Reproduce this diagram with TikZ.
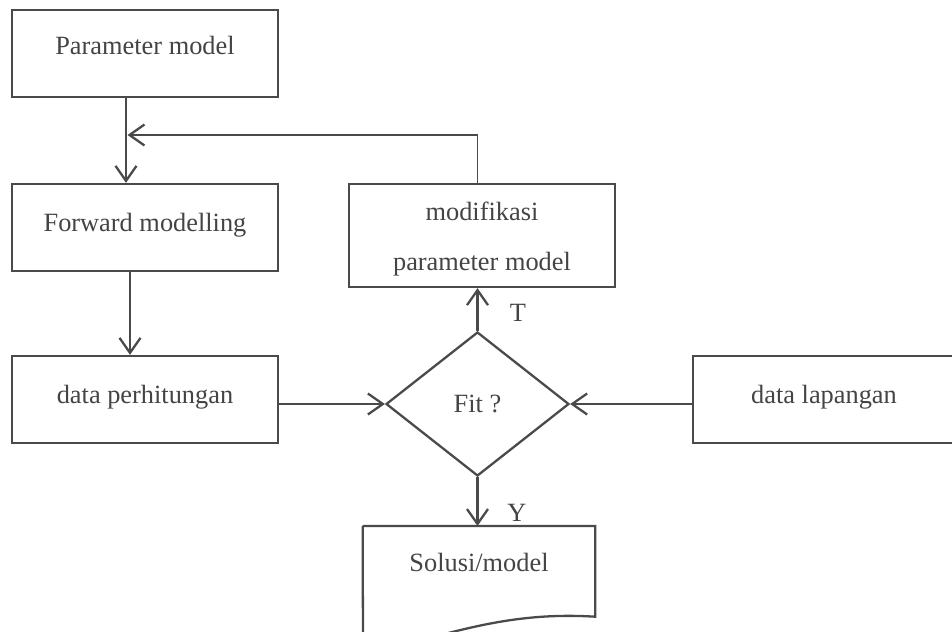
\documentclass[tikz,border=0pt]{standalone}
\usepackage{fontspec}
\setmainfont{Liberation Serif}
\usetikzlibrary{arrows.meta,shapes.geometric,calc}
\definecolor{linegray}{HTML}{4A4A4A}
\definecolor{textgray}{HTML}{444444}
\begin{document}
\begin{tikzpicture}[
    flowlabel/.style={font=\fontsize{15}{17}\selectfont, text=textgray},
    boxbase/.style={flowlabel, rectangle, draw=linegray, line width=1.3pt, minimum width=5.32cm, minimum height=1.74cm, inner sep=0pt},
    procbox/.style={boxbase, text height=10.5pt, text depth=6.5pt},
    decision/.style={flowlabel, diamond, draw=linegray, line width=1.3pt, minimum width=3.66cm, minimum height=2.88cm, inner sep=0pt},
    arr/.style={draw=linegray, line width=1.3pt, -{Straight Barb[length=3mm,width=4.2mm,line width=1.3pt]}}
]
\useasboundingbox (0,0) rectangle (19.04,-12.64);
\clip (0,0) rectangle (19.04,-12.64);

% === LEFT COLUMN ===
\node[procbox, text depth=9pt] (param) at (2.9, -1.07) {Parameter model};
\node[procbox] (forward) at (2.9, -4.55) {Forward modelling};
\node[procbox] (hitung) at (2.9, -7.99) {data perhitungan};

% vertical lines of the left column
\coordinate (xa) at (2.52, 0);
\coordinate (xb) at (2.6, 0);

% === MIDDLE COLUMN ===
\node[boxbase, minimum height=2.06cm] (modif) at (9.64, -4.71) {};
\node[flowlabel, align=center] (modiftext) at ($(modif.center) + (0, -0.07)$) {modifikasi\\[1.6ex]parameter model};
\node[decision] (fit) at (9.55, -8.08) {Fit ?};

% Solution (document shape)
\node[flowlabel, minimum width=4.64cm, minimum height=1.8cm, inner sep=0pt, text height=10.5pt, text depth=10pt, anchor=north] (sol) at (9.58, -10.52) {Solusi/model};
\draw[linegray, line width=1.3pt] (sol.north west) -- (sol.north east) -- (sol.south east)
    .. controls (10.4, -12.24) and (9.4, -12.56) .. (8.4, -12.8)
    .. controls (8.0, -12.9) and (7.6, -12.9) .. (7.26, -12.9) -- (sol.north west);

% === RIGHT ===
\node[procbox, minimum width=5.24cm] (lapangan) at (16.48, -7.99) {data lapangan};

% Connectors
\draw[arr] (param.south -| xa) -- (forward.north -| xa);
\draw[arr] (forward.south -| xb) -- (hitung.north -| xb);
\draw[arr] (hitung.east |- fit.west) -- (fit.west);
\draw[arr] (lapangan.west |- fit.east) -- (fit.east);
\draw[arr] (fit.north) -- (modif.south -| fit.north);
\draw[arr] (fit.south) -- (sol.north -| fit.south);

% feedback loop
\coordinate (back) at (9.55, -2.7);
\draw[linegray, line width=0.8pt] (modif.north -| fit.north) -- (back);
\draw[arr] (back) -- ($(back -| xa) + (0.03, 0)$);

% T / Y labels
\node[flowlabel] (tlabel) at (10.36, -6.26) {T};
\node[flowlabel] (ylabel) at (10.34, -10.26) {Y};

\end{tikzpicture}
\end{document}
